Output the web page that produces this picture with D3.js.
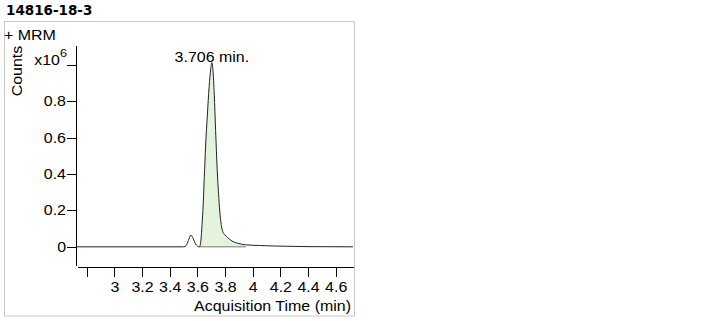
<!DOCTYPE html>
<html lang="en">
<head>
    <meta charset="UTF-8">
    <title>14816-18-3</title>
    <script src="https://d3js.org/d3.v7.min.js"></script>
    <style>
        body { margin: 0; background: #fff; }
        svg text { font-family: "Liberation Sans", Arial, sans-serif; font-size: 14px; fill: #000; }
        .title { font-family: "DejaVu Sans", Verdana, sans-serif !important; font-weight: bold; font-size: 13.5px !important; }
        .axis path, .axis line { stroke: #000; shape-rendering: crispEdges; }
    </style>
</head>
<body>
    <svg id="chart" width="723" height="321"></svg>
    <script>
        // chromatogram trace (acquisition time in min, counts)
        const times  = [2.73, 3.50, 3.52, 3.535, 3.553, 3.57, 3.585, 3.60, 3.615,
                        3.625, 3.632, 3.640, 3.650, 3.660, 3.672, 3.685, 3.697, 3.705,
                        3.713, 3.722, 3.732, 3.743, 3.755, 3.765, 3.775, 3.787, 3.80,
                        3.82, 3.85, 3.89, 3.95, 4.05, 4.25, 4.40, 4.725];
        const counts = [0, 0, 8000, 35000, 64000, 45000, 18000, 4000, 0,
                        30000, 100000, 200000, 380000, 560000, 720000, 880000, 980000, 1013000,
                        970000, 840000, 640000, 430000, 270000, 170000, 110000, 78000, 65000,
                        50000, 32000, 20000, 11000, 7000, 3000, 1000, 0];

        // integrated peak
        const peakStart = 3.615;
        const peakEnd = 3.95;
        const peakLabel = "3.706 min.";

        const xTicks = [2.8, 3, 3.2, 3.4, 3.6, 3.8, 4, 4.2, 4.4, 4.6];
        const xTickLabels = ["", "3", "3.2", "3.4", "3.6", "3.8", "4", "4.2", "4.4", "4.6"];
        const yTicks = [0, 200000, 400000, 600000, 800000, 1000000];
        const yTickLabels = ["0", "0.2", "0.4", "0.6", "0.8", ""];

        const svg = d3.select("#chart");
        const stretch = 1.14; // text in the original is drawn a bit wide

        const x = d3.scaleLinear().domain([2.73, 4.725]).range([77, 353]);
        const y = d3.scaleLinear().domain([-100000, 1110000]).range([265, 45]);

        // frame
        svg.append("rect")
            .attr("x", 4.5).attr("y", 21.5)
            .attr("width", 350).attr("height", 294.5)
            .attr("fill", "none").attr("stroke", "#c8c8c8");

        svg.append("text").attr("class", "title")
            .attr("x", 6).attr("y", 15)
            .text("14816-18-3");

        svg.append("text").attr("class", "wide")
            .attr("x", 4).attr("y", 40)
            .text("+ MRM");

        svg.append("text").attr("class", "wide")
            .attr("transform", "translate(22,71) rotate(-90)")
            .attr("text-anchor", "middle")
            .text("Counts");

        svg.append("text").attr("class", "wide")
            .attr("x", 351).attr("y", 311)
            .attr("text-anchor", "end")
            .text("Acquisition Time (min)");

        // axes
        const yAxis = svg.append("g").attr("class", "axis")
            .attr("transform", "translate(76,0)")
            .call(d3.axisLeft(y).tickValues(yTicks).tickSize(9).tickSizeOuter(0).tickPadding(1)
                .tickFormat((d, i) => yTickLabels[i]));
        yAxis.selectAll("text").attr("class", "wide");
        yAxis.attr("font-family", null).attr("font-size", null);

        // exponent label on the top tick
        const expLabel = svg.append("text")
            .attr("x", 67).attr("y", y(1000000))
            .attr("text-anchor", "end");
        expLabel.append("tspan").text("x10");
        expLabel.append("tspan").attr("dy", -8).attr("font-size", "11px").text("6");

        const xAxis = svg.append("g").attr("class", "axis")
            .attr("transform", "translate(0,267)")
            .call(d3.axisBottom(x).tickValues(xTicks).tickSize(10).tickSizeOuter(0).tickPadding(5)
                .tickFormat((d, i) => xTickLabels[i]));
        xAxis.selectAll("text").attr("class", "wide");
        xAxis.attr("font-family", null).attr("font-size", null);

        // trace data
        const trace = times.map((t, i) => ({ t: t, c: counts[i] }));
        const peak = trace.filter(d => d.t >= peakStart && d.t <= peakEnd);

        svg.append("path")
            .datum(peak)
            .attr("fill", "#e3f3dc")
            .attr("d", d3.area().x(d => x(d.t)).y0(y(0)).y1(d => y(d.c)).curve(d3.curveMonotoneX));

        svg.append("line")
            .attr("x1", x(peakStart)).attr("x2", x(peakEnd))
            .attr("y1", y(0)).attr("y2", y(0))
            .attr("stroke", "#777");

        svg.append("path")
            .datum(trace)
            .attr("fill", "none")
            .attr("stroke", "#222")
            .attr("stroke-width", 1)
            .attr("d", d3.line().x(d => x(d.t)).y(d => y(d.c)).curve(d3.curveMonotoneX));

        const apex = trace.reduce((a, b) => b.c > a.c ? b : a);
        svg.append("text").attr("class", "wide")
            .attr("x", x(apex.t)).attr("y", y(apex.c) - 0.5)
            .attr("text-anchor", "middle")
            .text(peakLabel);

        // widen the plain texts to match the original
        svg.selectAll("text.wide").each(function() {
            const w = this.getComputedTextLength();
            if (w > 0) d3.select(this).attr("textLength", w * stretch).attr("lengthAdjust", "spacingAndGlyphs");
        });
        const expW = expLabel.node().getComputedTextLength();
        expLabel.attr("textLength", expW * stretch).attr("lengthAdjust", "spacingAndGlyphs");
    </script>
</body>
</html>
